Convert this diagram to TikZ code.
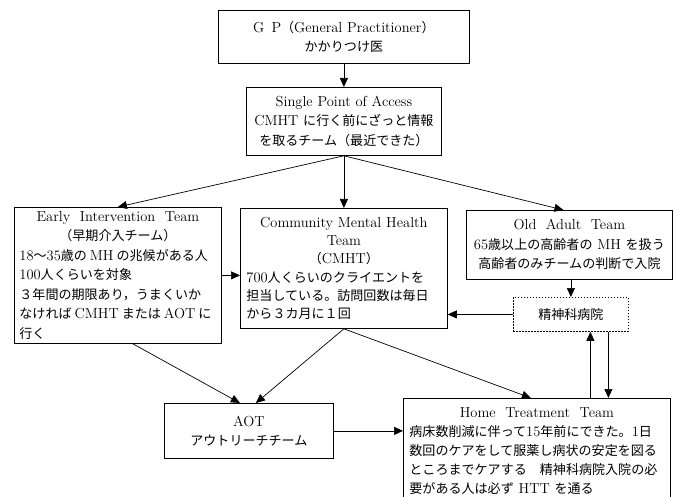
\documentclass[tikz,border=0pt]{standalone}
\usepackage{fontspec}
\usepackage{tikz}
\usetikzlibrary{arrows.meta, positioning}
\newfontfamily\jpfont[Scale=0.9]{Noto Sans CJK JP}
\newcommand{\jtxt}[1]{{\jpfont #1}}

\tikzset{
    box/.style={draw, line width=0.8pt, anchor=north west, inner xsep=7pt, inner ysep=4pt},
    arr/.style={-{Triangle[length=9pt, width=8pt]}, line width=0.7pt},
}

\begin{document}
\begin{tikzpicture}[x=1pt, y=-1pt, font=\fontsize{14.5}{19.5}\selectfont]
                \useasboundingbox (0, 0) rectangle (677, 497);
                \clip (0, 0) rectangle (677, 497);

                \node[box, minimum width=251, minimum height=53, align=center] (gp) at (218, 10)
                    {G\,\ P\jtxt{（}General Practitioner\jtxt{）}\\ \jtxt{かかりつけ医}};
                \node[box, minimum width=195, minimum height=68, align=center] (spa) at (246, 87)
                    {Single\ Point\ of\ Access\\ CMHT \jtxt{に行く前にざっと情報}\\ \jtxt{を取るチーム（最近できた）}};

                \node[box, text width=197, inner xsep=5pt, minimum height=136, inner ysep=1pt, align=left] (eit) at (14, 207)
                    {\centering Early\ \ Intervention\ \ Team\\ \jtxt{（早期介入チーム）}\par\raggedright
                     18\jtxt{〜}35\jtxt{歳の}\hspace{3pt}MH\hspace{3pt}\jtxt{の兆候がある人}\\
                     100\jtxt{人くらいを対象}\\
                     \jtxt{３年間の期限あり，うまくいか}\\
                     \mbox{\jtxt{なければ}\hspace{3pt}CMHT\hspace{3pt}\jtxt{または}\hspace{3pt}AOT\hspace{3pt}\jtxt{に}}\\
                     \jtxt{行く}};
                \node[box, text width=195, inner xsep=6pt, minimum height=120, inner ysep=3pt, align=left,
                      font=\fontsize{14.5}{18.3}\selectfont] (cmht) at (240, 208)
                    {\centering Community Mental Health\\ Team\\ \jtxt{（}CMHT\jtxt{）}\par\raggedright
                     700\jtxt{人くらいのクライエントを}\\
                     \jtxt{担当している。訪問回数は毎日}\\
                     \jtxt{から３カ月に１回}};
                \node[box, minimum width=206, minimum height=69, align=center] (oat) at (466, 210)
                    {Old\ \ Adult\ \ Team\\ 65\jtxt{歳以上の高齢者の} MH \jtxt{を扱う}\\ \jtxt{高齢者のみチームの判断で入院}};
                \node[box, minimum width=115, minimum height=34, dash pattern=on 1.5pt off 1.5pt] (hosp) at (513, 297)
                    {\jtxt{精神科病院}};

                \node[box, minimum width=169, minimum height=55, align=center] (aot) at (164, 403)
                    {AOT\\ \jtxt{アウトリーチチーム}};
                \node[box, text width=255, inner xsep=6pt, inner ysep=9pt, align=left,
                      font=\fontsize{14.5}{19}\selectfont] (htt) at (403, 398)
                    {\centering Home\ \ Treatment\ \ Team\par\raggedright
                     \jtxt{病床数削減に伴って}15\jtxt{年前にできた。}1\jtxt{日}\\
                     \jtxt{数回のケアをして服薬し病状の安定を図る}\\
                     \jtxt{ところまでケアする　精神科病院入院の必}\\
                     \jtxt{要がある人は必ず} HTT \jtxt{を通る}};

                % connectors
                \draw[arr] (gp.south) -- (spa.north);
                \draw[arr] (spa.south) -- (eit.north);
                \draw[arr] (spa.south) -- (cmht.north);
                \draw[arr] (spa.south) -- ([xshift=-6]oat.north);
                \draw[arr] (eit.east) -- (cmht.west |- eit.east);
                \draw[arr] (hosp.north |- oat.south) -- (hosp.north);
                \draw[arr] (hosp.west) -- (cmht.east |- hosp.west);

                \coordinate (up) at ([xshift=19.5]hosp.south);
                \coordinate (down) at ([xshift=37.5]hosp.south);
                \draw[arr] (up |- htt.north) -- (up);
                \draw[arr] (down) -- (down |- htt.north);

                \draw[arr] ([xshift=15]eit.south) -- ([xshift=-9]aot.north);
                \draw[arr] (cmht.south) -- ([xshift=7]aot.north);
                \draw[arr] (cmht.south) -- ([xshift=-6]htt.north);
                \draw[arr] (aot.east) -- (htt.west |- aot.east);
\end{tikzpicture}
\end{document}
